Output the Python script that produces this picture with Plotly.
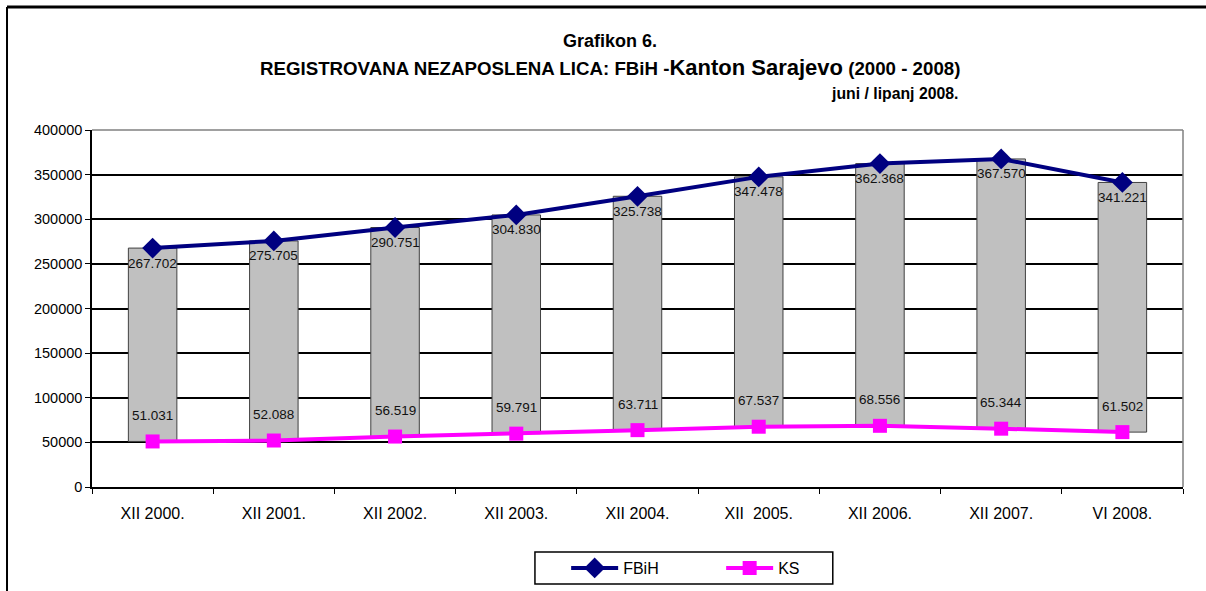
import plotly.graph_objects as go

categories = ["XII 2000.", "XII 2001.", "XII 2002.", "XII 2003.", "XII 2004.",
              "XII  2005.", "XII 2006.", "XII 2007.", "VI 2008."]
fbih = [267702, 275705, 290751, 304830, 325738, 347478, 362368, 367570, 341221]
ks = [51031, 52088, 56519, 59791, 63711, 67537, 68556, 65344, 61502]

FONT = "Arial, Liberation Sans, sans-serif"


def fmt(v):
    return f"{v:,}".replace(",", ".")


fig = go.Figure()

# up/down bars between the two series
fig.add_trace(go.Bar(
    x=categories, y=[a - b for a, b in zip(fbih, ks)], base=ks,
    width=0.4, marker=dict(color="#C0C0C0", line=dict(color="#404040", width=1)),
    showlegend=False, hoverinfo="skip"))

fig.add_trace(go.Scatter(
    x=categories, y=fbih, name="FBiH", mode="lines+markers",
    line=dict(color="#000080", width=4),
    marker=dict(symbol="diamond", size=16, color="#000080")))

fig.add_trace(go.Scatter(
    x=categories, y=ks, name="KS", mode="lines+markers",
    line=dict(color="#FF00FF", width=4),
    marker=dict(symbol="square", size=14, color="#FF00FF")))

annotations = []
for c, v in zip(categories, fbih):
    annotations.append(dict(x=c, y=v, text=fmt(v), showarrow=False, yshift=-15,
                            font=dict(family=FONT, size=13.5, color="#111")))
for c, v in zip(categories, ks):
    annotations.append(dict(x=c, y=v, text=fmt(v), showarrow=False, yshift=26,
                            font=dict(family=FONT, size=13.5, color="#111")))

# titles
annotations.append(dict(xref="paper", yref="paper", x=0.4748, y=1.249, showarrow=False,
                        xanchor="center", yanchor="middle",
                        text="<b>Grafikon 6.</b>", font=dict(family=FONT, size=18, color="#000")))
annotations.append(dict(xref="paper", yref="paper", x=0.4748, y=1.1737, showarrow=False,
                        xanchor="center", yanchor="middle",
                        text="<b>REGISTROVANA NEZAPOSLENA LICA: FBiH -<span style='font-size:22px'>Kanton Sarajevo</span> (2000 - 2008)</b>",
                        font=dict(family=FONT, size=18.7, color="#000")))
annotations.append(dict(xref="paper", yref="paper", x=0.7956, y=1.1036, showarrow=False,
                        xanchor="right", yanchor="middle",
                        text="<b>juni / lipanj 2008.</b>", font=dict(family=FONT, size=15.8, color="#000")))

shapes = [
    # outer frame (top and left only)
    dict(type="line", xref="paper", yref="paper", x0=-0.0779, x1=1.03, y0=1.3445, y1=1.3445,
         line=dict(color="#000", width=3)),
    dict(type="line", xref="paper", yref="paper", x0=-0.0779, x1=-0.0779, y0=1.3445, y1=-0.35,
         line=dict(color="#000", width=2)),
    # plot area border
    dict(type="line", xref="paper", yref="paper", x0=0, x1=1, y0=1, y1=1,
         line=dict(color="#808080", width=1.5)),
    dict(type="line", xref="paper", yref="paper", x0=1, x1=1, y0=0, y1=1,
         line=dict(color="#808080", width=1.5)),
    # legend box
    dict(type="rect", xref="paper", yref="paper", x0=0.406, x1=0.679, y0=-0.182, y1=-0.272,
         line=dict(color="#000", width=1.5), fillcolor="rgba(0,0,0,0)"),
]

fig.update_layout(
    width=1206, height=591,
    margin=dict(l=92, r=23, t=130, b=104, autoexpand=False),
    paper_bgcolor="white", plot_bgcolor="white",
    font=dict(family=FONT, size=12, color="#000"),
    barmode="overlay",
    annotations=annotations, shapes=shapes,
    legend=dict(orientation="h", x=0.4346, xanchor="left", y=-0.227, yanchor="middle",
                entrywidth=93, entrywidthmode="pixels", itemwidth=47,
                font=dict(family=FONT, size=16, color="#000"), bgcolor="rgba(0,0,0,0)"),
    xaxis=dict(type="category", tickson="boundaries", ticks="outside", ticklen=5,
               tickcolor="#000", showline=True, linecolor="#000", linewidth=1.5,
               showgrid=False, tickfont=dict(size=16), ticklabelstandoff=11,
               range=[-0.5, 8.5]),
    yaxis=dict(range=[0, 400000], dtick=50000, tickformat="d", ticks="outside", ticklen=5,
               tickcolor="#000", showline=True, linecolor="#000", linewidth=1.5,
               showgrid=True, gridcolor="#000", gridwidth=2, zeroline=False,
               tickfont=dict(size=14.5)),
)

# remove the default body margin so the figure sits at the page origin
fig.write_html("out.html", config={"displayModeBar": False},
               post_script="document.body.style.margin='0px';")
